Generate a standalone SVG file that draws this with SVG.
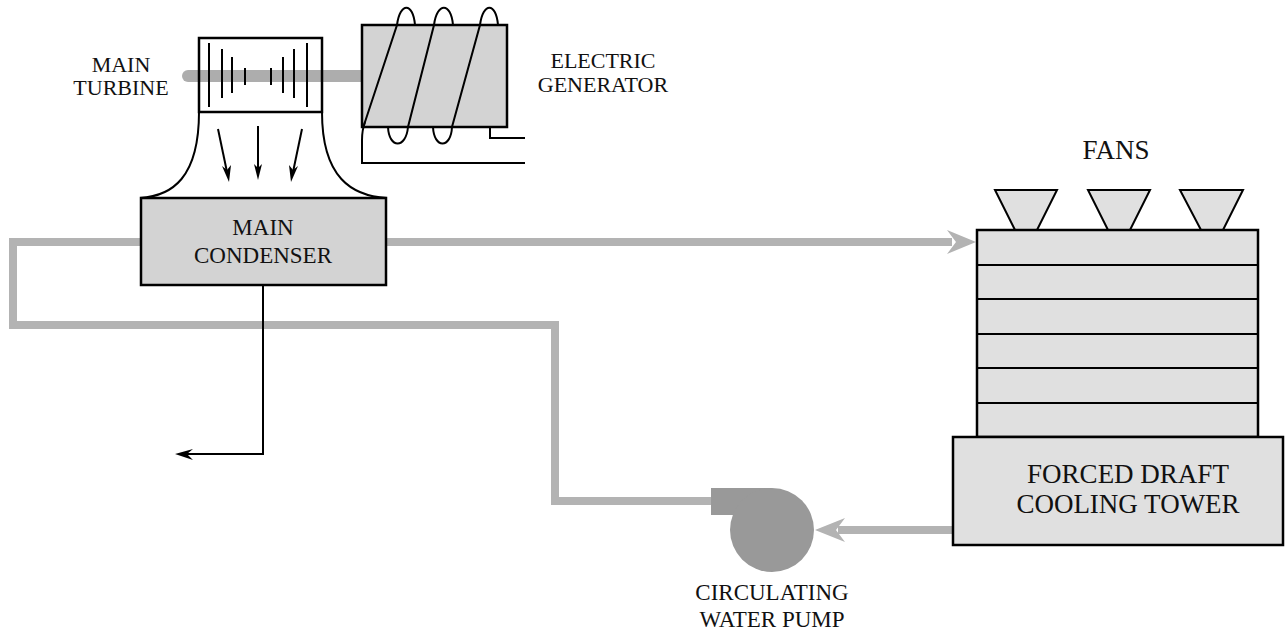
<svg xmlns="http://www.w3.org/2000/svg" width="1287" height="633" viewBox="0 0 1287 633">
<defs>
<style>
.lbl{font-family:"Liberation Serif","Times New Roman",serif;fill:#111;text-anchor:middle}
.box{stroke:#000;stroke-width:2.5}
.ln{fill:none;stroke:#000;stroke-width:2}
.pipe{fill:none;stroke:#b3b3b3;stroke-width:8}
</style>
</defs>
<rect width="1287" height="633" fill="#fff"/>
<g id="connectors">
<path class="pipe" d="M141,242 H13 V325 H555 V501 H712"/>
<path class="pipe" d="M386,242 H952"/>
<polygon points="976,242 947,230 956,242 947,254" fill="#b3b3b3"/>
<path class="pipe" d="M953,530 H838"/>
<polygon points="815,530 845,518 836,530 845,542" fill="#b3b3b3"/>
<path class="ln" d="M263,285 V454 H185"/>
<polygon points="175,454 193,449 187,454 193,460" fill="#000"/>
</g>
<g id="shaft">
<line x1="188" y1="76" x2="362" y2="76" stroke="#adadad" stroke-width="12" stroke-linecap="round"/>
</g>
<g id="main-turbine">
<rect class="box" x="199" y="38" width="123" height="74" fill="none" stroke-width="2.5"/>
<g stroke="#000" stroke-width="2">
<line x1="209" y1="43" x2="209" y2="107"/>
<line x1="222" y1="49" x2="222" y2="98"/>
<line x1="232" y1="57" x2="232" y2="93"/>
<line x1="245" y1="68" x2="245" y2="85"/>
<line x1="271" y1="68" x2="271" y2="85"/>
<line x1="283" y1="57" x2="283" y2="93"/>
<line x1="294" y1="49" x2="294" y2="98"/>
<line x1="307" y1="43" x2="307" y2="107"/>
</g>
<path class="ln" d="M199,112 C199,178 172,196 140,198"/>
<path class="ln" d="M322,112 C322,178 352,196 387,198"/>
<g stroke="#000" stroke-width="2">
<line x1="218" y1="129" x2="227" y2="172"/>
<line x1="258" y1="126" x2="258" y2="170"/>
<line x1="302" y1="129" x2="293" y2="172"/>
</g>
<polygon points="229,182 222,166 227,170 231,165" fill="#000"/>
<polygon points="258,180 254,164 258,168 262,164" fill="#000"/>
<polygon points="291,182 289,165 293,170 298,166" fill="#000"/>
<text class="lbl" x="121" y="72" font-size="22">MAIN</text>
<text class="lbl" x="121" y="95" font-size="22">TURBINE</text>
</g>
<g id="electric-generator">
<rect class="box" x="362" y="25" width="145" height="102" fill="#d3d3d3"/>
<g class="ln">
<path d="M363,128 L397,25 C400,2 413,2 415,25"/>
<path d="M388,127 C389,149 406,149 408,127 L434,25 C437,2 451,2 453,25"/>
<path d="M433,127 C434,149 451,149 452,127 L480,25 C483,2 496,2 498,25"/>
<path d="M365,122 Q362,130 362,140 V163 H525"/>
<path d="M490,127 V138 H525"/>
</g>
<text class="lbl" x="603" y="68" font-size="22">ELECTRIC</text>
<text class="lbl" x="603" y="92" font-size="22">GENERATOR</text>
</g>
<g id="main-condenser">
<rect class="box" x="141" y="198" width="245" height="87" fill="#d3d3d3"/>
<text class="lbl" x="263" y="235" font-size="23">MAIN</text>
<text class="lbl" x="263" y="263" font-size="23">CONDENSER</text>
</g>
<g id="cooling-tower">
<g fill="#e0e0e0" stroke="#000" stroke-width="2">
<polygon points="995,190 1057,190 1037,230 1015,230"/>
<polygon points="1088,190 1150,190 1130,230 1108,230"/>
<polygon points="1180,190 1243,190 1223,230 1201,230"/>
</g>
<rect class="box" x="977" y="230" width="281" height="207" fill="#e0e0e0"/>
<g stroke="#000" stroke-width="2">
<line x1="977" y1="265" x2="1258" y2="265"/>
<line x1="977" y1="299" x2="1258" y2="299"/>
<line x1="977" y1="334" x2="1258" y2="334"/>
<line x1="977" y1="368" x2="1258" y2="368"/>
<line x1="977" y1="403" x2="1258" y2="403"/>
</g>
<rect class="box" x="953" y="437" width="330" height="108" fill="#e0e0e0"/>
<text class="lbl" x="1128" y="483" font-size="27">FORCED DRAFT</text>
<text class="lbl" x="1128" y="513" font-size="27">COOLING TOWER</text>
<text class="lbl" x="1116" y="159" font-size="27">FANS</text>
</g>
<g id="circulating-water-pump">
<rect x="711" y="488" width="61" height="27" fill="#999"/>
<circle cx="772" cy="530" r="42" fill="#999"/>
<text class="lbl" x="772" y="600" font-size="23">CIRCULATING</text>
<text class="lbl" x="772" y="627" font-size="23">WATER PUMP</text>
</g>
</svg>
